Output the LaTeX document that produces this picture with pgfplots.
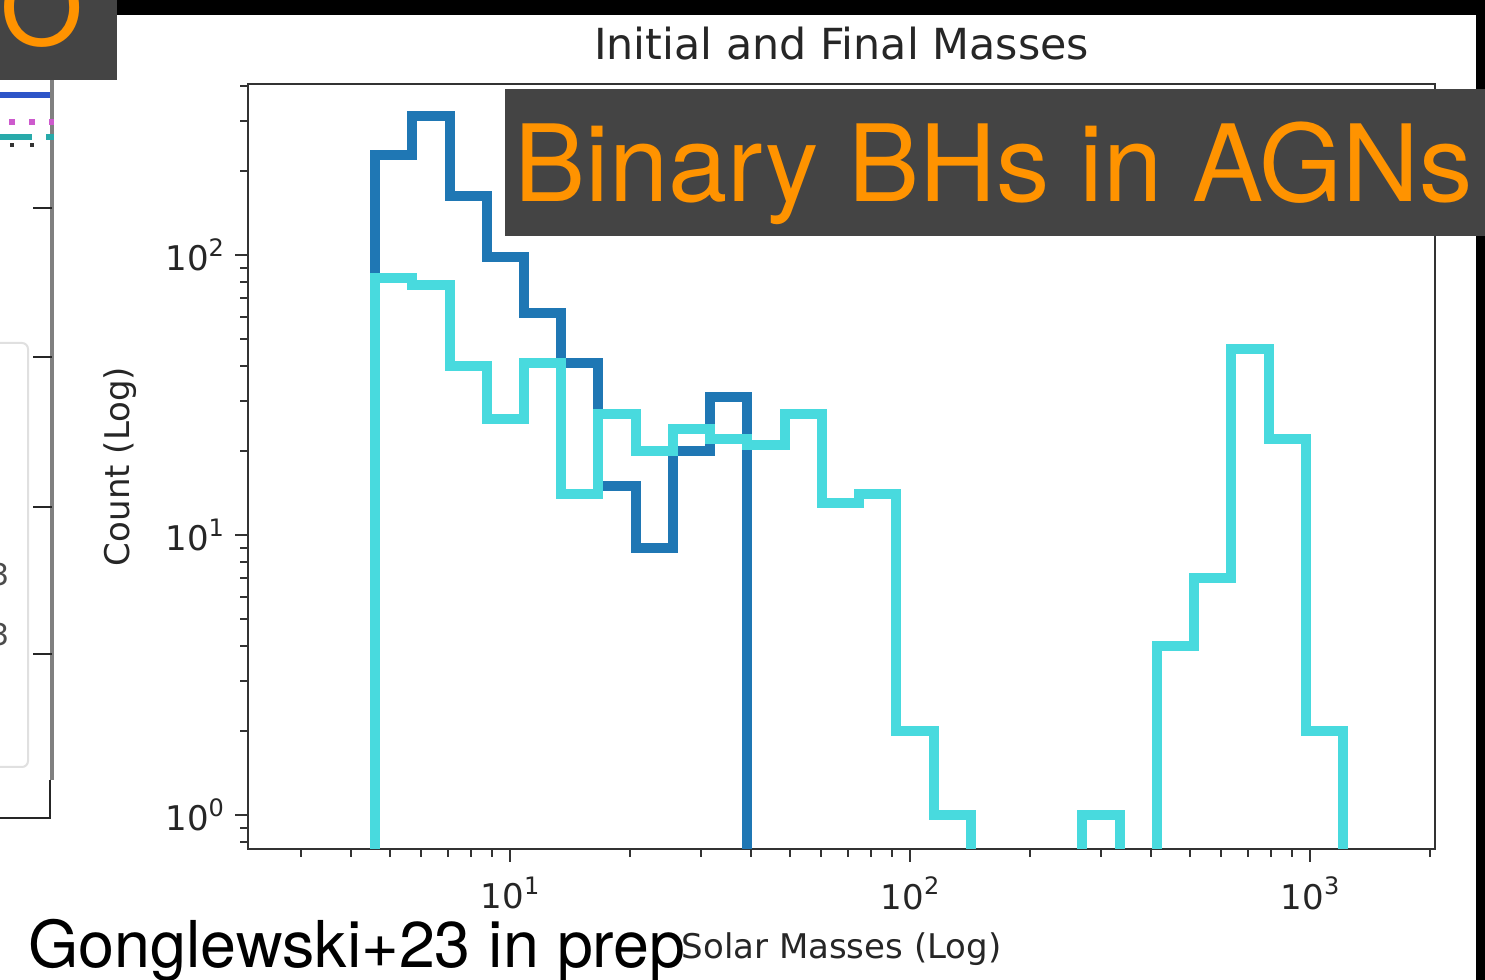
\documentclass[border=0pt]{standalone}
\usepackage{fontspec}
\setmainfont{DejaVu Sans}
\newfontfamily\slidefont{TeX Gyre Heros}
\usepackage{pgfplots}
\pgfplotsset{compat=1.18}
\definecolor{mblue}{RGB}{31,119,180}
\definecolor{mcyan}{RGB}{72,218,222}
\definecolor{boxgray}{RGB}{68,68,68}
\definecolor{orng}{RGB}{255,147,0}
\definecolor{fragblue}{RGB}{45,85,200}
\definecolor{fragmag}{RGB}{205,90,205}
\definecolor{fragteal}{RGB}{40,170,170}
\newcommand{\tl}[1]{10\raisebox{0.42em}{\fontsize{12}{12}\selectfont #1}}
\begin{document}
\begin{tikzpicture}
\useasboundingbox (0,0) rectangle (742.5pt,490pt);
\clip (0,0) rectangle (742.5pt,490pt);
\fill[white] (0,0) rectangle (742.5pt,490pt);
% black frame parts
\fill[black] (0,482.5pt) rectangle (742.5pt,490pt);
\fill[black] (738pt,0) rectangle (742.5pt,490pt);
% fragment of a neighbouring chart on the left
\draw[black!12, line width=1pt, rounded corners=3pt] (-5pt,106.5pt) rectangle (14pt,318.5pt);
\node[anchor=east, inner sep=0, text=black!70, font=\fontsize{15}{15}\selectfont] at (5pt,202.5pt) {3};
\node[anchor=east, inner sep=0, text=black!70, font=\fontsize{15}{15}\selectfont] at (5pt,172.5pt) {3};
\draw[black!50, line width=1.6pt] (26pt,100pt) -- (26pt,450pt);
\draw[black!85, line width=1.4pt] (25pt,100pt) -- (25pt,81pt) -- (0pt,81pt);
\foreach \yy in {386,311.5,236.5,163} {\draw[black!85, line width=1pt] (16.5pt,\yy pt) -- (26pt,\yy pt);}
\draw[fragblue, line width=3pt] (0pt,442.5pt) -- (25pt,442.5pt);
\draw[fragmag, line width=3pt, dash pattern=on 3pt off 7pt] (4.5pt,429pt) -- (27pt,429pt);
\draw[fragteal, line width=3pt] (0pt,421.5pt) -- (16pt,421.5pt);
\draw[fragteal, line width=3pt] (23pt,421.5pt) -- (27pt,421.5pt);
\draw[black!80, line width=2pt, dash pattern=on 2pt off 8pt] (5pt,417.5pt) -- (20pt,417.5pt);
\begin{axis}[
  at={(124pt,65.5pt)}, anchor=south west,
  scale only axis, width=593.5pt, height=382.5pt,
  xmode=log, ymode=log,
  xmin=2.213, xmax=2053, ymin=0.756, ymax=408,
  axis line style={black!80, line width=1.2pt},
  tick align=outside, tick pos=left,
  major tick length=6.5pt, minor tick length=4pt,
  tick style={black!80, line width=1pt},
  xtick={10,100,1000}, xticklabels={\tl{1},\tl{2},\tl{3}},
  minor xtick={3,4,5,6,7,8,9,20,30,40,50,60,70,80,90,200,300,400,500,600,700,800,900,2000},
  ytick={1,10,100}, yticklabels={\tl{0},\tl{1},\tl{2}},
  minor ytick={0.8,0.9,2,3,4,5,6,7,8,9,20,30,40,50,60,70,80,90,200,300,400},
  ticklabel style={font=\fontsize{17}{17}\selectfont, text=black!85},
  xticklabel style={yshift=-4pt},
  yticklabel style={xshift=-2pt},
  title={Initial and Final Masses},
  title style={at={(axis description cs:0.5,1.0366)}, anchor=center, font=\fontsize{21.4}{21.4}\selectfont, text=black!85},
  xlabel={Solar Masses (Log)},
  xlabel style={at={(axis description cs:0.5,-0.1307)}, anchor=center, font=\fontsize{17}{17}\selectfont, text=black!85},
  ylabel={Count (Log)},
  ylabel style={at={(axis description cs:-0.1078,0.5)}, anchor=center, font=\fontsize{17}{17}\selectfont, text=black!85},
]
\addplot[const plot mark left, mblue, line width=5pt, line join=miter] coordinates {
 (4.597,0.01) (4.597,228) (5.694,313) (7.060,162) (8.745,98) (10.83,62)
 (13.43,41) (16.63,15) (20.61,9) (25.53,20) (31.64,31) (39.20,0.01)
};
\addplot[const plot mark left, mcyan, line width=5pt, line join=miter] coordinates {
 (4.597,0.01) (4.597,83) (5.694,78) (7.060,40) (8.745,26) (10.83,41)
 (13.43,14) (16.63,27) (20.61,20) (25.53,24) (31.64,22) (39.20,21)
 (48.57,27) (60.18,13) (74.56,14) (92.38,2) (114.5,1) (141.8,0.01)
 (175.7,0.01) (217.7,0.01) (269.8,1) (334.2,0.01) (414.0,4) (512.9,7)
 (635.8,46) (787.6,22) (975.6,2) (1209,0.01)
};
\end{axis}
% slide overlays
\fill[boxgray] (0,450pt) rectangle (58.5pt,490pt);
\node[anchor=base west, inner sep=0, text=orng, font=\slidefont\fontsize{53.3}{53.3}\selectfont] at (0pt,467.3pt) {O};
\fill[boxgray] (252.5pt,372pt) rectangle (742.5pt,445.5pt);
\node[anchor=base west, inner sep=0, text=orng, font=\slidefont\fontsize{53.3}{53.3}\selectfont] at (257pt,389pt) {Binary BHs in AGNs};
\node[anchor=base west, inner sep=0, text=black, font=\slidefont\fontsize{32.3}{32.3}\selectfont] at (14pt,6pt) {Gonglewski+23 in prep};
\end{tikzpicture}
\end{document}
